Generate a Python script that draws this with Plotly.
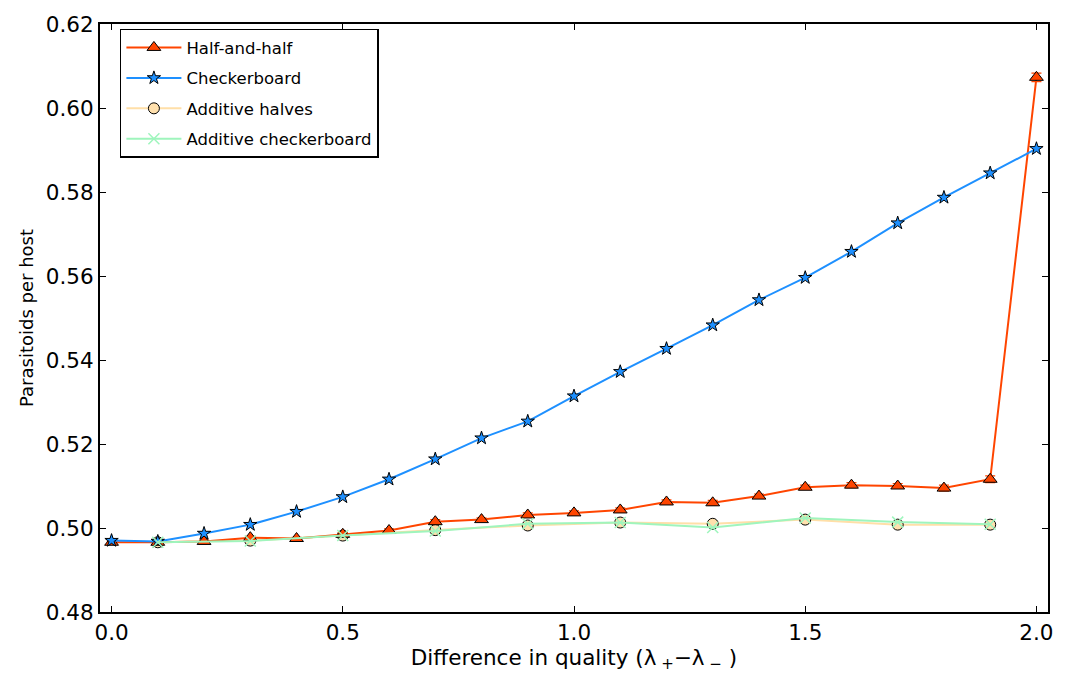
import plotly.graph_objects as go

x_all = [0.0, 0.1, 0.2, 0.3, 0.4, 0.5, 0.6, 0.7, 0.8, 0.9, 1.0,
         1.1, 1.2, 1.3, 1.4, 1.5, 1.6, 1.7, 1.8, 1.9, 2.0]
x_odd = [0.1, 0.3, 0.5, 0.7, 0.9, 1.1, 1.3, 1.5, 1.7, 1.9]

half_and_half = [0.4966, 0.4966, 0.4968, 0.4977, 0.4975, 0.4985, 0.4994, 0.5015,
                 0.5020, 0.5031, 0.5036, 0.5043, 0.5062, 0.5060, 0.5076, 0.5097,
                 0.5102, 0.5100, 0.5095, 0.5116, 0.6073]
half_err = [0.0003, 0.0003, 0.0003, 0.0003, 0.0003, 0.0004, 0.0004, 0.0005,
            0.0004, 0.0005, 0.0005, 0.0005, 0.0005, 0.0006, 0.0005, 0.0005,
            0.0006, 0.0006, 0.0007, 0.0008, 0.0010]
checkerboard = [0.4970, 0.4968, 0.4987, 0.5008, 0.5039, 0.5074, 0.5116, 0.5164,
                0.5214, 0.5254, 0.5314, 0.5372, 0.5427, 0.5483, 0.5543, 0.5596,
                0.5658, 0.5726, 0.5787, 0.5845, 0.5903]
additive_halves = [0.4966, 0.4970, 0.4982, 0.4995, 0.5006, 0.5013, 0.5010, 0.5020,
                   0.5008, 0.5008]
additive_checker = [0.4966, 0.4969, 0.4982, 0.4993, 0.5010, 0.5013, 0.5001, 0.5024,
                    0.5014, 0.5009]

fig = go.Figure()

fig.add_trace(go.Scatter(
    x=x_odd, y=additive_halves, name="Additive halves", mode="lines+markers",
    legendgroup="c", legendrank=3,
    line=dict(color="#ffdfa8", width=2),
    marker=dict(symbol="circle", size=11, color="#ffe0ad",
                line=dict(color="black", width=1)),
))
fig.add_trace(go.Scatter(
    x=x_all, y=half_and_half, name="Half-and-half", mode="lines+markers",
    legendgroup="a", legendrank=1,
    line=dict(color="#ff4500", width=2),
    marker=dict(symbol="triangle-up", size=12, color="#ff4500",
                line=dict(color="black", width=1)),
    error_y=dict(type="data", array=half_err, color="#ff4500", thickness=1.2, width=5),
))
fig.add_trace(go.Scatter(
    x=x_all, y=checkerboard, name="Checkerboard", mode="lines+markers",
    legendgroup="b", legendrank=2,
    line=dict(color="#1e90ff", width=2),
    marker=dict(symbol="star", size=10, color="#1e90ff",
                line=dict(color="black", width=1)),
))
fig.add_trace(go.Scatter(
    x=x_odd, y=additive_checker, name="Additive checkerboard", mode="lines+markers",
    legendgroup="d", legendrank=4,
    line=dict(color="#9ff5bd", width=2),
    marker=dict(symbol="x-thin", size=11, color="#9ff5bd",
                line=dict(color="#9ff5bd", width=1.5)),
))

fig.update_layout(
    width=1066, height=677,
    margin=dict(l=100, r=15, t=18, b=65),
    paper_bgcolor="white", plot_bgcolor="white",
    font=dict(family="DejaVu Sans", color="black"),
    showlegend=True,
    legend=dict(
        x=0.021, y=0.992, xanchor="left", yanchor="top",
        bordercolor="black", borderwidth=1.5, bgcolor="white",
        font=dict(size=16.5), tracegroupgap=6,
        itemwidth=55,
    ),
)

fig.update_xaxes(
    range=[-0.025, 2.025], tickvals=[0.0, 0.5, 1.0, 1.5, 2.0],
    ticktext=["0.0", "0.5", "1.0", "1.5", "2.0"],
    ticks="inside", ticklen=6, tickcolor="black", showline=True, linecolor="black",
    linewidth=2, mirror="ticks", showgrid=False, zeroline=False,
    tickfont=dict(size=21.5),
    title=dict(text="Difference in quality (λ<sub> +</sub>−λ<sub> −</sub> )",
               font=dict(size=21.5), standoff=2),
)
fig.update_yaxes(
    range=[0.48, 0.62], dtick=0.02, tickformat=".2f",
    ticks="inside", ticklen=6, tickcolor="black", showline=True, linecolor="black",
    linewidth=2, mirror="ticks", showgrid=False, zeroline=False,
    tickfont=dict(size=21.5),
    title=dict(text="Parasitoids per host", font=dict(size=18), standoff=8),
)

fig.write_html("out.html")
